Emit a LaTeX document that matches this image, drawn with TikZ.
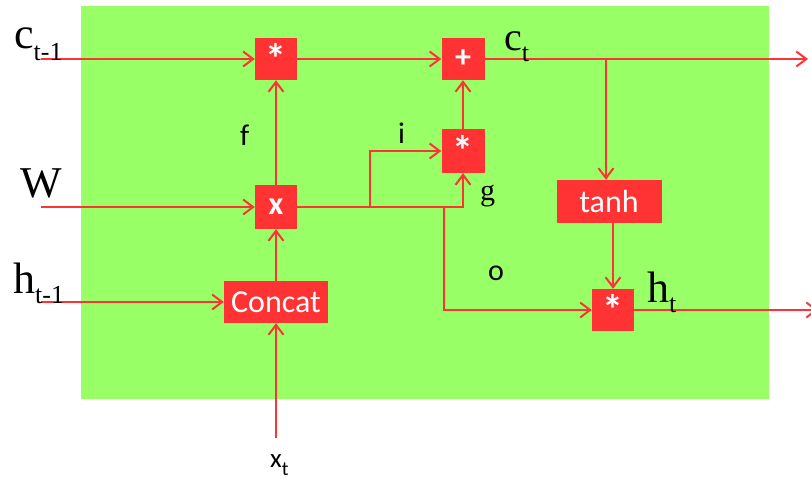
\documentclass[tikz,border=0pt]{standalone}
\usepackage{fontspec}
\setmainfont{Carlito}
\newfontfamily\serifface{Liberation Serif}
\usetikzlibrary{arrows.meta}
\definecolor{cellgreen}{HTML}{99FF66}
\definecolor{gatered}{HTML}{FF3333}
\newcommand\myfs[1]{\fontsize{#1}{#1}\selectfont}
\newcommand\gstar{\raisebox{2pt}{\myfs{42}\textbf{*}}}
\begin{document}
\begin{tikzpicture}[x=1pt,y=-1pt,
  gate/.style={fill=gatered, draw=none, text=white, inner sep=0pt, font=\myfs{32}},
  flow/.style={draw=gatered, line width=2pt, -{Straight Barb[length=10pt,width=15pt]}},
  serlab/.style={font=\serifface\myfs{44}, inner sep=0pt, anchor=base west},
  sanlab/.style={font=\myfs{30}, inner sep=0pt, anchor=base west}]
\useasboundingbox (0,0) rectangle (811,479);
\fill[cellgreen] (81,6) rectangle (769,399);

% gates
\node[gate, minimum width=42pt, minimum height=42pt] (fmul) at (276,59) {\gstar};
\node[gate, minimum width=42pt, minimum height=44pt] (xbox) at (276,207) {\textbf{x}};
\node[gate, minimum width=43pt, minimum height=42pt] (plus) at (463,59) {\textbf{+}};
\node[gate, minimum width=43pt, minimum height=44pt] (gmul) at (463,151) {\gstar};
\node[gate, minimum width=105pt, minimum height=43pt] (tanh) at (609,201.5) {tanh};
\node[gate, minimum width=42pt, minimum height=42pt] (hmul) at (613,310) {\gstar};
\node[gate, minimum width=104pt, minimum height=42pt] (concat) at (276,302) {Concat};

% free ends and branch points
\coordinate (cin) at (41,59);
\coordinate (win) at (41,207);
\coordinate (hin) at (41,302);
\coordinate (xin) at (276,438);
\coordinate (cout) at (808,59);
\coordinate (hout) at (818,310);
\coordinate (cbr) at (606,59);
\coordinate (ibr) at (370,207);
\coordinate (obr) at (444,207);

% connectors
\draw[flow] (cin) -- (fmul);
\draw[flow] (fmul) -- (plus);
\draw[flow] (plus) -- (cout);
\draw[flow] (cbr) -- (cbr |- tanh.north);
\draw[flow] (hmul |- tanh.south) -- (hmul.north);
\draw[flow] (win) -- (xbox);
\draw[flow] (xbox) -- (fmul);
\draw[flow] (concat) -- (xbox);
\draw[flow] (hin) -- (concat);
\draw[flow] (xin) -- (concat);
\draw[flow] (ibr) |- (gmul.west);
\draw[flow] (xbox.east) -| (gmul.south);
\draw[flow] (obr) |- (hmul.west);
\draw[flow] (gmul) -- (plus);
\draw[flow] (hmul) -- (hout);

% labels
\node[serlab] (lcin) at (14,48) {c\raisebox{-13pt}{\myfs{26}t-1}};
\node[serlab] (lw) at (20,197) {W};
\node[serlab] (lhin) at (13,293) {h\raisebox{-10pt}{\myfs{26}t-1}};
\node[serlab, font=\serifface\myfs{40}] (lcout) at (504,50) {c\raisebox{-11pt}{\myfs{26}t}};
\node[serlab] (lhout) at (647,302) {h\raisebox{-10pt}{\myfs{26}t}};
\node[serlab, font=\serifface\myfs{30}] (lg) at (480,200) {g};
\node[sanlab] (lf) at (240,145) {f};
\node[sanlab] (li) at (398,143) {i};
\node[sanlab] (lo) at (488,280) {o};
\node[sanlab, font=\myfs{27}] (lx) at (270,467) {x\raisebox{-8pt}{\myfs{20}t}};
\end{tikzpicture}
\end{document}
